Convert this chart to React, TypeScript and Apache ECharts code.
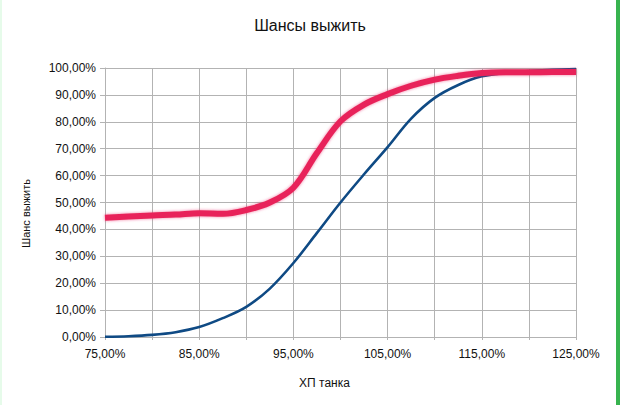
import { useEffect, useRef } from 'react'
import * as echarts from 'echarts'

// ХП танка, %
const hpLevels = [75, 77.5, 80, 82.5, 85, 87.5, 90, 92.5, 95, 97.5, 100, 102.5, 105, 107.5, 110, 112.5, 115, 117.5, 120, 122.5, 125]
// синяя кривая
const blueValues = [0.1, 0.3, 0.8, 1.8, 3.7, 7, 11.2, 18, 27.5, 38.7, 50, 60.5, 70.6, 81.2, 88.9, 93.7, 96.9, 98.2, 98.9, 99.3, 99.6]
// красная кривая
const redValues = [44.3, 44.8, 45.2, 45.5, 46, 45.8, 47.2, 50, 55.5, 68.4, 80.2, 86.4, 90.3, 93.4, 95.7, 97.1, 98.1, 98.4, 98.4, 98.5, 98.5]

const titleText = 'Шансы выжить'
const xName = 'ХП танка'
const yName = 'Шанс выжить'

const fmt = (v: number) => v.toFixed(2).replace('.', ',') + '%'

const App = () => {
  const chartRef = useRef<HTMLDivElement>(null)

  useEffect(() => {
    if (!chartRef.current) return
    const chart = echarts.init(chartRef.current, null, { renderer: 'svg' })
    const font = "'Liberation Sans', Arial, sans-serif"
    const gridColor = '#b3b3b3'

    chart.setOption({
      animation: false,
      textStyle: { fontFamily: font },
      title: {
        text: titleText,
        left: 'center',
        top: 12,
        textStyle: { fontSize: 16, fontWeight: 'normal', color: '#111', fontFamily: font }
      },
      grid: { left: 105, right: 44, top: 68, bottom: 68 },
      xAxis: {
        type: 'value',
        min: 75,
        max: 125,
        interval: 5,
        name: xName,
        nameLocation: 'middle',
        nameGap: 40,
        nameTextStyle: { fontSize: 12, color: '#111', padding: [0, 32, 0, 0] },
        axisLine: { show: true, lineStyle: { color: gridColor, width: 1 } },
        axisTick: { show: true, length: 3, lineStyle: { color: gridColor } },
        splitLine: { show: true, lineStyle: { color: gridColor, width: 1 } },
        axisLabel: {
          fontSize: 12,
          color: '#111',
          margin: 11,
          formatter: (v: number) => ((v - 75) % 10 === 0 ? fmt(v) : '')
        }
      },
      yAxis: {
        type: 'value',
        min: 0,
        max: 100,
        interval: 10,
        name: yName,
        nameLocation: 'middle',
        nameGap: 74,
        nameTextStyle: { fontSize: 11, color: '#111', padding: [0, 22, 0, 0] },
        axisLine: { show: true, lineStyle: { color: gridColor, width: 1 } },
        axisTick: { show: true, length: 5, lineStyle: { color: gridColor } },
        splitLine: { show: true, lineStyle: { color: gridColor, width: 1 } },
        axisLabel: { fontSize: 12, color: '#111', margin: 9, formatter: fmt }
      },
      series: [
        {
          type: 'line',
          data: hpLevels.map((x, i) => [x, blueValues[i]]),
          smooth: 0.35,
          showSymbol: false,
          lineStyle: { color: '#0f4a84', width: 2.6 },
          z: 2
        },
        {
          type: 'line',
          data: hpLevels.map((x, i) => [x, redValues[i]]),
          smooth: 0.35,
          showSymbol: false,
          lineStyle: { color: '#e8245a', width: 6, shadowBlur: 3, shadowColor: 'rgba(232,36,90,0.6)' },
          z: 3
        }
      ],
      graphic: [
        { type: 'rect', left: 616, top: 0, shape: { width: 4, height: 405 }, style: { fill: '#37b34f' } },
        { type: 'rect', left: 0, top: 0, shape: { width: 2, height: 405 }, style: { fill: '#e6fbea' } }
      ]
    })

    return () => chart.dispose()
  }, [])

  return <div ref={chartRef} style={{ position: 'absolute', left: 0, top: 0, width: 620, height: 405 }} />
}

export default App
